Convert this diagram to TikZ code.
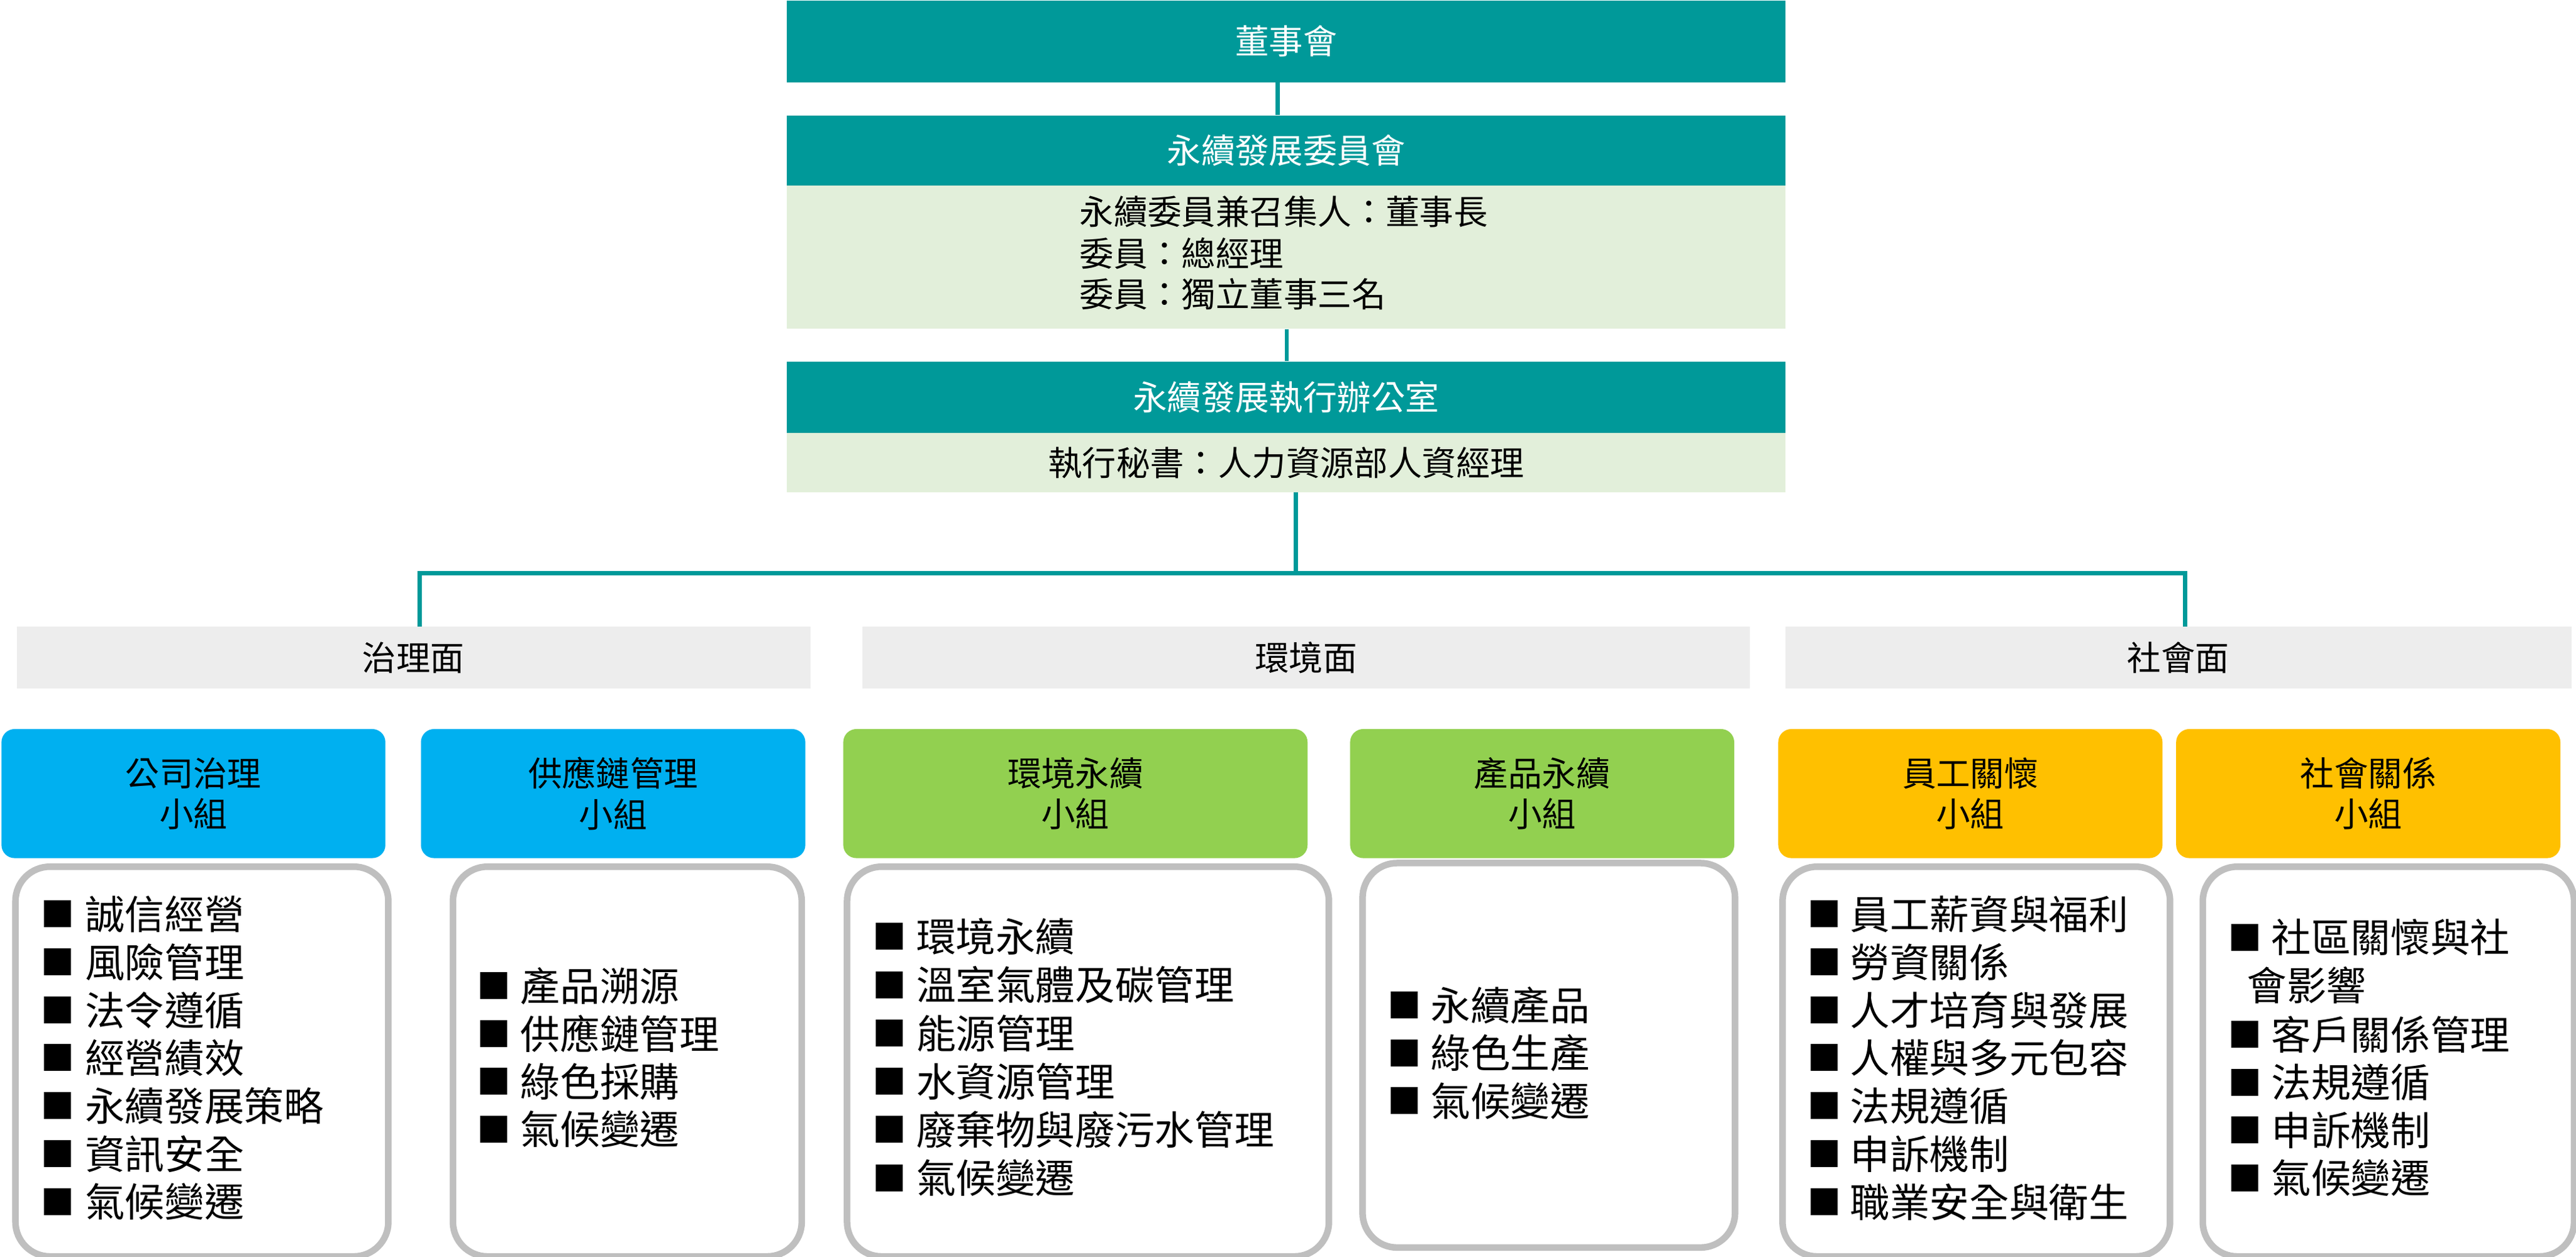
\documentclass[tikz,border=0pt]{standalone}
\usepackage{fontspec}
\setmainfont{Noto Sans CJK TC}
\definecolor{teal1}{HTML}{009999}
\definecolor{paleg}{HTML}{E2EFDA}
\definecolor{barg}{HTML}{EDEDED}
\definecolor{blue1}{HTML}{00B0F0}
\definecolor{green1}{HTML}{92D050}
\definecolor{gold1}{HTML}{FFC000}
\definecolor{bord}{HTML}{BFBFBF}
\tikzset{
  conn/.style={draw=teal1, line width=2.5pt},
  tfont/.style={font=\fontsize{20.7}{24.8}\selectfont},
  hdrbox/.style={fill=teal1, draw=none, text=white, inner sep=0pt, minimum width=608pt, anchor=north west, tfont},
  bodybox/.style={fill=paleg, draw=none, inner sep=0pt, minimum width=608pt, anchor=north west, tfont},
  barbox/.style={fill=barg, draw=none, inner sep=0pt, minimum height=37.6pt, anchor=north west, tfont},
  grpbox/.style={draw=none, inner sep=0pt, minimum height=78.6pt, anchor=north west, rounded corners=8pt, align=center, tfont},
  listbox/.style={draw=bord, line width=4pt, fill=white, inner sep=0pt, anchor=north west, rounded corners=21pt},
  linetext/.style={inner sep=0pt, anchor=west, tfont},
  itemtext/.style={inner sep=0pt, anchor=west, font=\fontsize{24.2}{29}\selectfont},
  bulmark/.style={inner sep=0pt, anchor=center, font=\fontsize{20.5}{20.5}\selectfont},
}
\begin{document}
\begin{tikzpicture}[x=1pt,y=-1pt]
\useasboundingbox (0,0) rectangle (1568,765.36);
% top hierarchy
\node[hdrbox, minimum height=50pt] (board) at (478.7,0) {董事會};
\node[hdrbox, minimum height=42.6pt] (cmh) at (478.7,70) {永續發展委員會};
\node[bodybox, minimum height=87.3pt] (cmb) at (478.7,112.6) {};
\node[linetext] (cm1) at (657,129) {永續委員兼召集人：董事長};
\node[linetext] (cm2) at (657,154.3) {委員：總經理};
\node[linetext] (cm3) at (657,178.9) {委員：獨立董事三名};
\node[hdrbox, minimum height=43.6pt] (ofh) at (478.7,220) {永續發展執行辦公室};
\node[bodybox, minimum height=35.9pt] (ofb) at (478.7,263.6) {執行秘書：人力資源部人資經理};
% bars
\node[barbox, minimum width=483.1pt] (gov) at (9.9,381.4) {治理面};
\node[barbox, minimum width=540.2pt] (env) at (524.8,381.4) {環境面};
\node[barbox, minimum width=478.6pt] (soc) at (1086.4,381.4) {社會面};
% connectors
\draw[conn] ([xshift=-5.2pt]board.south) -- ([xshift=-5.2pt]board.south |- cmh.north);
\draw[conn] ([xshift=0.3pt]cmb.south) -- ([xshift=0.3pt]cmb.south |- ofh.north);
\coordinate (junc) at (788.7,349);
\draw[conn] (ofb.south -| junc) -- (junc);
\draw[conn] ([xshift=3.85pt]gov.north) |- (junc) -| ([xshift=4.1pt]soc.north);
% group boxes
\node[grpbox, fill=blue1, minimum width=233.7pt] (g1) at (0.7,443.7) {公司治理\\小組};
\node[grpbox, fill=blue1, minimum width=234pt] (g2) at (256,443.7) {供應鏈管理\\小組};
\node[grpbox, fill=green1, minimum width=282.6pt] (g3) at (513.1,443.7) {環境永續\\小組};
\node[grpbox, fill=green1, minimum width=233.8pt] (g4) at (821.6,443.7) {產品永續\\小組};
\node[grpbox, fill=gold1, minimum width=233.9pt] (g5) at (1082.2,443.7) {員工關懷\\小組};
\node[grpbox, fill=gold1, minimum width=233.9pt] (g6) at (1324.4,443.7) {社會關係\\小組};
% list boxes
\node[listbox, minimum width=227pt, minimum height=237.3pt] (c1) at (7.4,525.7) {};
\node[listbox, minimum width=212.3pt, minimum height=237.3pt] (c2) at (273.7,525.7) {};
\node[listbox, minimum width=293.3pt, minimum height=237.3pt] (c3) at (513.6,525.7) {};
\node[listbox, minimum width=226.7pt, minimum height=234.1pt] (c4) at (827.4,523.5) {};
\node[listbox, minimum width=235.9pt, minimum height=237.3pt] (c5) at (1083,525.7) {};
\node[listbox, minimum width=226pt, minimum height=237.3pt] (c6) at (1338.8,525.7) {};
% list items
\foreach \t [count=\i] in {誠信經營,風險管理,法令遵循,經營績效,永續發展策略,資訊安全,氣候變遷}{
  \node[bulmark] (c1b\i) at (35.3,{556.6+(\i-1)*29.2}) {■};
  \node[itemtext] (c1t\i) at (51.6,{556.6+(\i-1)*29.2}) {\t};
}
\foreach \t [count=\i] in {產品溯源,供應鏈管理,綠色採購,氣候變遷}{
  \node[bulmark] (c2b\i) at (300.8,{600.3+(\i-1)*29.1}) {■};
  \node[itemtext] (c2t\i) at (316.6,{600.3+(\i-1)*29.1}) {\t};
}
\foreach \t [count=\i] in {環境永續,溫室氣體及碳管理,能源管理,水資源管理,廢棄物與廢污水管理,氣候變遷}{
  \node[bulmark] (c3b\i) at (541.6,{570.4+(\i-1)*29.38}) {■};
  \node[itemtext] (c3t\i) at (557.5,{570.4+(\i-1)*29.38}) {\t};
}
\foreach \t [count=\i] in {永續產品,綠色生產,氣候變遷}{
  \node[bulmark] (c4b\i) at (854.9,{612.1+(\i-1)*29.1}) {■};
  \node[itemtext] (c4t\i) at (870.8,{612.1+(\i-1)*29.1}) {\t};
}
\foreach \t [count=\i] in {員工薪資與福利,勞資關係,人才培育與發展,人權與多元包容,法規遵循,申訴機制,職業安全與衛生}{
  \node[bulmark] (c5b\i) at (1110.4,{556.6+(\i-1)*29.2}) {■};
  \node[itemtext] (c5t\i) at (1126,{556.6+(\i-1)*29.2}) {\t};
}
\node[bulmark] (c6b1) at (1366.4,570.9) {■};
\node[itemtext] (c6t1) at (1382.4,570.9) {社區關懷與社};
\node[itemtext] (c6t1b) at (1367.5,599.8) {會影響};
\foreach \t [count=\i from 2] in {客戶關係管理,法規遵循,申訴機制,氣候變遷}{
  \node[bulmark] (c6b\i) at (1366.4,{630+(\i-2)*29.1}) {■};
  \node[itemtext] (c6t\i) at (1382.4,{630+(\i-2)*29.1}) {\t};
}
\end{tikzpicture}
\end{document}
